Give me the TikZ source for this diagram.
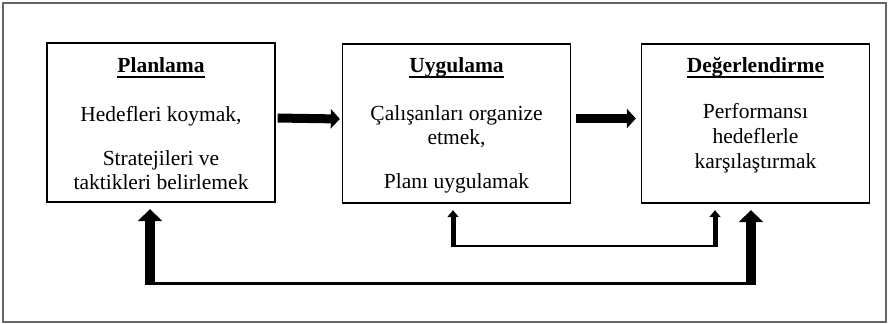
\documentclass[tikz,border=0pt]{standalone}
\usepackage{fontspec}
\setmainfont{Liberation Serif}
\usetikzlibrary{arrows.meta}
\begin{document}
\begin{tikzpicture}[x=1pt,y=-1pt,
  stagebox/.style={draw=black,line width=1.3pt,minimum width=228pt,minimum height=159pt,inner sep=0pt},
  title/.style={font=\fontsize{21.5}{24}\selectfont\bfseries,anchor=base,inner sep=0pt},
  body/.style={font=\fontsize{21.5}{24}\selectfont,anchor=base,inner sep=0pt},
  uline/.style={line width=2.2pt},
  bigflow/.style={line width=9pt,-{Triangle[length=9pt,width=19pt]}},
  outerup/.style={line width=10pt,-{Triangle[length=12pt,width=24pt]},shorten >=6.5pt},
  innerup/.style={line width=5pt,-{Triangle[length=7pt,width=11pt]},shorten >=6.5pt}]
\useasboundingbox (0,0) rectangle (889,324);
\draw[draw=black!60,line width=1.3pt] (3,3) rectangle (886,322);
% boxes
\node[stagebox] (p) at (161,122.5) {};
\node[stagebox] (u) at (456.5,123.5) {};
\node[stagebox] (d) at (755.5,123.5) {};
% Planlama
\node[title] (pt) at (161,72) {Planlama};
\draw[uline] ([yshift=-5pt]pt.base west) -- ([yshift=-5pt]pt.base east);
\node[body] (p1) at (161,121) {Hedefleri koymak,};
\node[body] (p2) at (161,165) {Stratejileri ve};
\node[body] (p3) at (161,189) {taktikleri belirlemek};
% Uygulama
\node[title] (ut) at (456.5,72) {Uygulama};
\draw[uline] ([yshift=-5pt]ut.base west) -- ([yshift=-5pt]ut.base east);
\node[body] (u1) at (456.5,120) {Çalışanları organize};
\node[body] (u2) at (456.5,144) {etmek,};
\node[body] (u3) at (456.5,188) {Planı uygulamak};
% Degerlendirme
\node[title] (dt) at (755.5,72) {Değerlendirme};
\draw[uline] ([yshift=-5pt]dt.base west) -- ([yshift=-5pt]dt.base east);
\node[body] (d1) at (755.5,118) {Performansı};
\node[body] (d2) at (755.5,143) {hedeflerle};
\node[body] (d3) at (755.5,168) {karşılaştırmak};
% forward arrows
\draw[bigflow,shorten <=2pt,shorten >=2pt] ([yshift=4.5pt]p.east) -- ([yshift=4.5pt]u.west);
\draw[bigflow,shorten <=5pt,shorten >=5pt] ([yshift=5pt]u.east) -- ([yshift=5pt]d.west);
% inner feedback
\coordinate (iL) at (453,246);
\coordinate (iR) at (715,246);
\draw[line width=2.2pt] (iL) -- (iR);
\draw[innerup] ([yshift=-1.1pt]iL) -- (iL |- u.south);
\draw[innerup] ([yshift=-1.1pt]iR) -- (iR |- d.south);
% outer feedback
\coordinate (oL) at (150,283);
\coordinate (oR) at (751,283);
\draw[line width=3pt] (oL) -- (oR);
\draw[outerup] ([yshift=-1.5pt]oL) -- (oL |- p.south);
\draw[outerup] ([yshift=-1.5pt]oR) -- (oR |- d.south);
\end{tikzpicture}
\end{document}
